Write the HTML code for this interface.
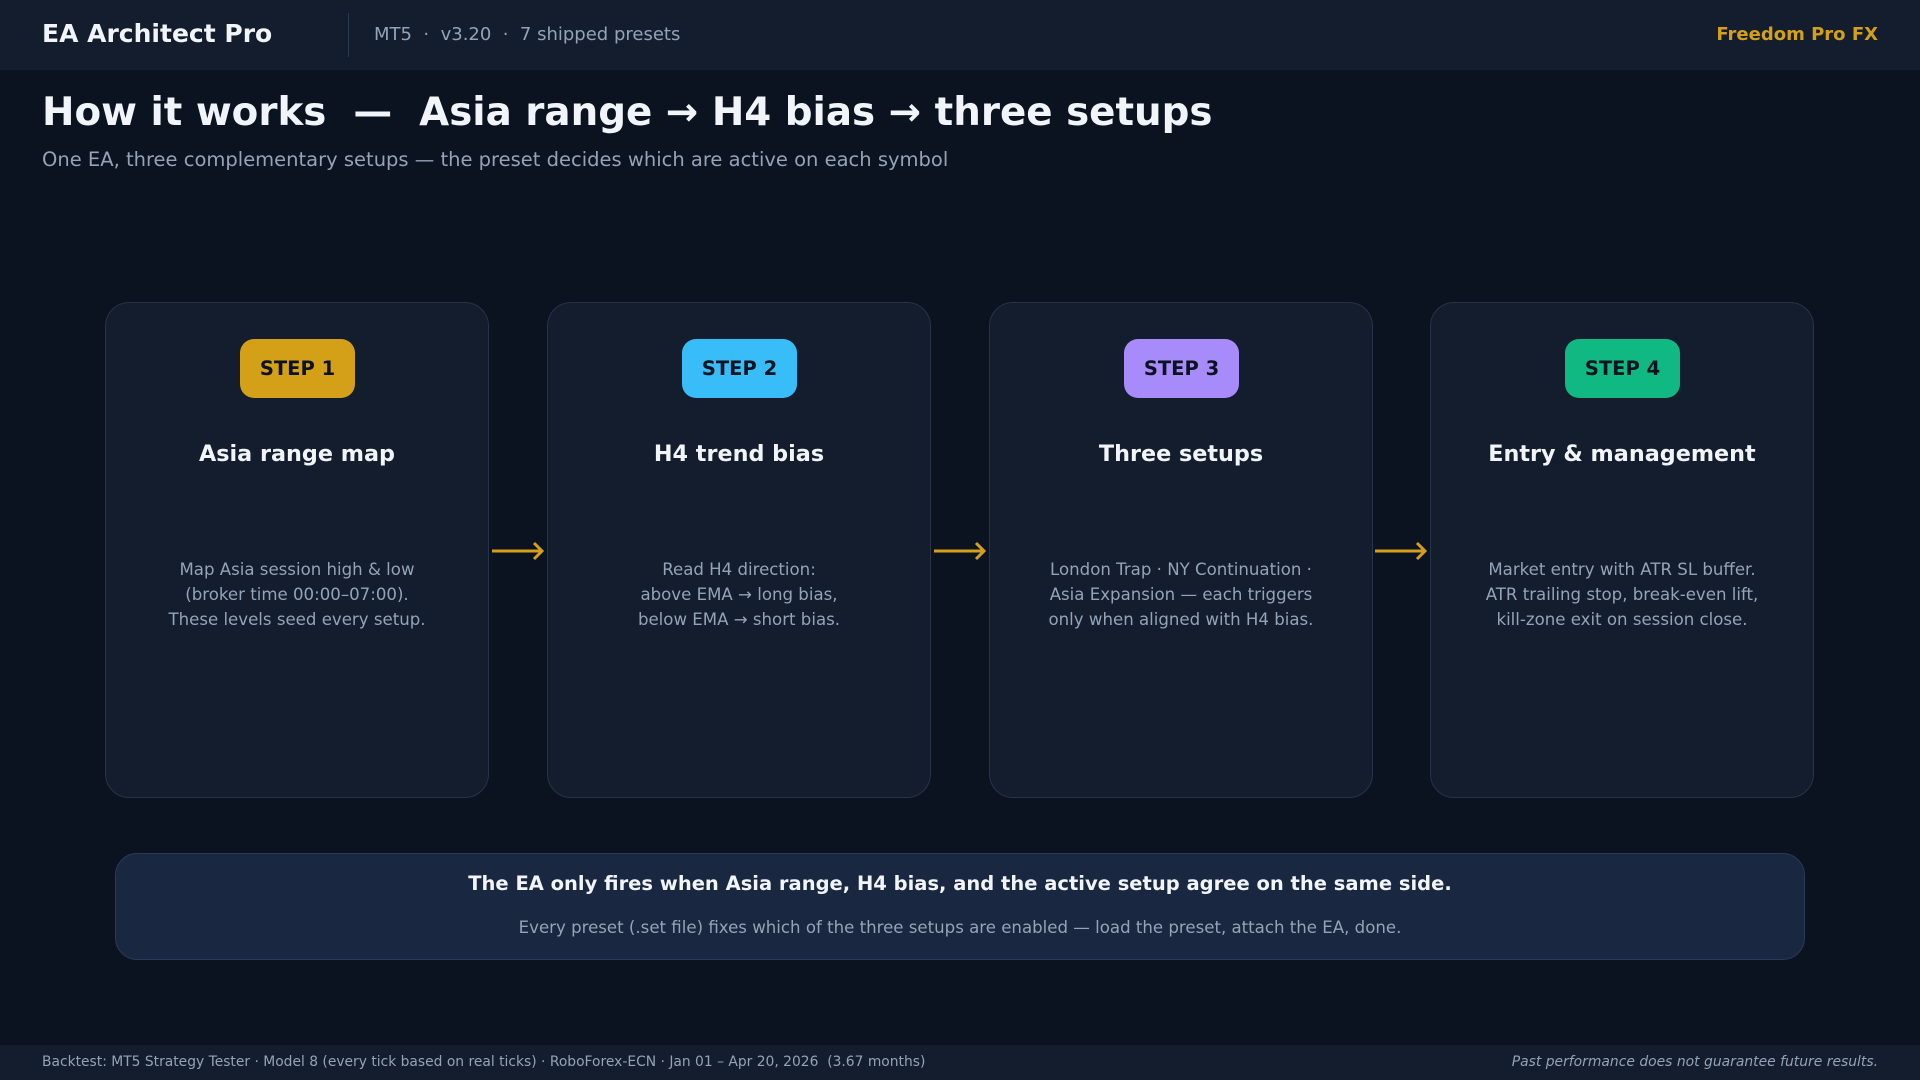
<!DOCTYPE html>
<html><head><meta charset="utf-8"><style>
*{margin:0;padding:0;box-sizing:border-box}
body{width:1920px;height:1080px;background:#0b1220;font-family:"DejaVu Sans","Liberation Sans",sans-serif;position:relative;overflow:hidden;color:#f1f5f9}
.hdr{position:absolute;left:0;top:0;width:1920px;height:70px;background:#131d2e}
.abs{position:absolute;white-space:nowrap}
.card{position:absolute;top:302px;width:384px;height:496px;background:#131d2e;border:1px solid #263349;border-radius:24px}
.badge{position:absolute;left:134px;top:36px;width:115px;height:59px;border-radius:14px;font-weight:bold;font-size:19.5px;color:#0b1220;text-align:center;line-height:59px}
.ct{position:absolute;left:0;width:100%;top:138px;text-align:center;font-weight:bold;font-size:22.3px;color:#f1f5f9}
.cb{position:absolute;left:0;width:100%;top:254px;text-align:center;font-size:16.6px;line-height:25px;color:#94a3b8}
.arr{position:absolute;top:540px}
</style></head><body>
<div class="hdr"></div>
<div class="abs" style="left:42px;top:19px;font-size:25px;font-weight:bold;color:#f1f5f9">EA Architect Pro</div>
<div class="abs" style="left:348px;top:13px;width:1px;height:44px;background:#2a3850"></div>
<div class="abs" style="left:374px;top:24px;font-size:18px;color:#94a3b8">MT5 &nbsp;·&nbsp; v3.20 &nbsp;·&nbsp; 7 shipped presets</div>
<div class="abs" style="right:42px;top:24px;font-size:18px;font-weight:bold;color:#d4a017">Freedom Pro FX</div>
<div class="abs" style="left:42px;top:90px;font-size:38.8px;font-weight:bold;color:#f1f5f9">How it works &nbsp;—&nbsp; Asia range → H4 bias → three setups</div>
<div class="abs" style="left:42px;top:148px;font-size:19.5px;color:#94a3b8">One EA, three complementary setups — the preset decides which are active on each symbol</div>

<div class="card" style="left:105px"><div class="badge" style="background:#d4a017">STEP 1</div><div class="ct">Asia range map</div><div class="cb">Map Asia session high &amp; low<br>(broker time 00:00–07:00).<br>These levels seed every setup.</div></div>
<div class="card" style="left:547px"><div class="badge" style="background:#38bdf8">STEP 2</div><div class="ct">H4 trend bias</div><div class="cb">Read H4 direction:<br>above EMA → long bias,<br>below EMA → short bias.</div></div>
<div class="card" style="left:989px"><div class="badge" style="background:#a78bfa">STEP 3</div><div class="ct">Three setups</div><div class="cb">London Trap · NY Continuation ·<br>Asia Expansion — each triggers<br>only when aligned with H4 bias.</div></div>
<div class="card" style="left:1430px"><div class="badge" style="background:#10b981">STEP 4</div><div class="ct">Entry &amp; management</div><div class="cb">Market entry with ATR SL buffer.<br>ATR trailing stop, break-even lift,<br>kill-zone exit on session close.</div></div>

<svg class="arr" style="left:490px" width="56" height="22"><path d="M2 11H52M44 3L52 11L44 19" stroke="#d4a017" stroke-width="3" fill="none"/></svg>
<svg class="arr" style="left:932px" width="56" height="22"><path d="M2 11H52M44 3L52 11L44 19" stroke="#d4a017" stroke-width="3" fill="none"/></svg>
<svg class="arr" style="left:1373px" width="56" height="22"><path d="M2 11H52M44 3L52 11L44 19" stroke="#d4a017" stroke-width="3" fill="none"/></svg>

<div class="abs" style="left:115px;top:853px;width:1690px;height:107px;background:#1a2740;border:1px solid #2a3a58;border-radius:22px"></div>
<div class="abs" style="left:115px;width:1690px;top:872px;text-align:center;font-size:19.5px;font-weight:bold;color:#f1f5f9">The EA only fires when Asia range, H4 bias, and the active setup agree on the same side.</div>
<div class="abs" style="left:115px;width:1690px;top:918px;text-align:center;font-size:16.6px;color:#94a3b8">Every preset (.set file) fixes which of the three setups are enabled — load the preset, attach the EA, done.</div>

<div class="abs" style="left:0;top:1045px;width:1920px;height:35px;background:#131d2e"></div>
<div class="abs" style="left:42px;top:1054px;font-size:13.85px;color:#94a3b8">Backtest: MT5 Strategy Tester · Model 8 (every tick based on real ticks) · RoboForex-ECN · Jan 01 – Apr 20, 2026 &nbsp;(3.67 months)</div>
<div class="abs" style="right:42px;top:1054px;font-size:13.9px;font-style:italic;color:#94a3b8">Past performance does not guarantee future results.</div>
</body></html>
